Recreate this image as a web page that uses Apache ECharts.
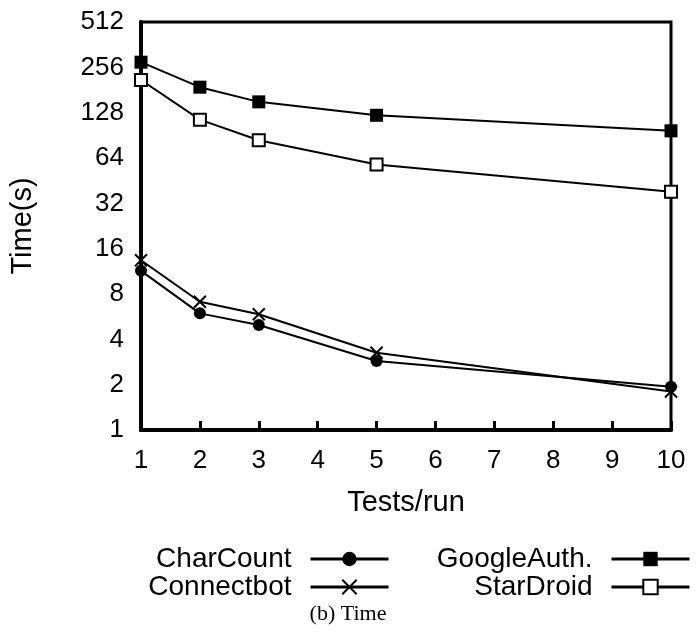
<!DOCTYPE html>
<html>
<head>
<meta charset="utf-8">
<script src="https://cdn.jsdelivr.net/npm/echarts@6/dist/echarts.min.js"></script>
<style>html,body{margin:0;padding:0;background:#fff}#c{width:696px;height:633px}</style>
</head>
<body>
<div id="c"></div>
<script>
const testsPerRun = [1, 2, 3, 5, 10];
const charCount = [11.4, 5.95, 4.98, 2.87, 1.94];
const connectbot = [13.4, 7.1, 5.87, 3.26, 1.80];
const googleAuth = [277, 189, 151, 123, 97];
const starDroid = [211, 115, 84, 58, 38.2];
const yTicks = [1, 2, 4, 8, 16, 32, 64, 128, 256, 512];
const seriesNames = ['CharCount', 'Connectbot', 'GoogleAuth.', 'StarDroid'];

const pairs = vals => testsPerRun.map((x, i) => [x, vals[i]]);
const FONT = 'Liberation Sans, Arial, sans-serif';
const lineStyle = { color: '#000', width: 2 };

const legendCommon = {
  orient: 'vertical', align: 'right', top: 540, itemWidth: 78, itemHeight: 18, itemGap: 0,
  lineStyle: { width: 3, color: '#000' },
  textStyle: { fontSize: 28, color: '#000', fontFamily: FONT, lineHeight: 26, padding: [0, 14, 0, 0] }
};

const chart = echarts.init(document.getElementById('c'), null, { renderer: 'canvas' });
chart.setOption({
  animation: false,
  backgroundColor: '#fff',
  textStyle: { fontFamily: FONT, color: '#000' },
  grid: { left: 140, top: 22, right: 25, bottom: 203, show: true, borderColor: '#000', borderWidth: 3, containLabel: false },
  xAxis: {
    type: 'value', min: 1, max: 10, interval: 1,
    name: 'Tests/run', nameLocation: 'middle', nameGap: 58,
    nameTextStyle: { fontSize: 29, color: '#000', fontFamily: FONT },
    axisLine: { show: true, lineStyle: { color: '#000', width: 4 } },
    axisTick: { show: true, inside: true, length: 9, lineStyle: { color: '#000', width: 3 } },
    axisLabel: { fontSize: 26, color: '#000', margin: 18, fontFamily: FONT },
    splitLine: { show: false }
  },
  yAxis: {
    type: 'log', logBase: 2, min: yTicks[0], max: yTicks[yTicks.length - 1], splitNumber: yTicks.length - 1,
    name: 'Time(s)', nameLocation: 'middle', nameGap: 104, nameRotate: 90,
    nameTextStyle: { fontSize: 29, color: '#000', fontFamily: FONT },
    axisLine: { show: true, lineStyle: { color: '#000', width: 4 } },
    axisTick: { show: false },
    axisLabel: { fontSize: 26, color: '#000', margin: 17, fontFamily: FONT },
    splitLine: { show: false }
  },
  legend: [
    Object.assign({ data: [seriesNames[0], seriesNames[1]], right: 301 }, legendCommon),
    Object.assign({ data: [seriesNames[2], seriesNames[3]], right: 0 }, legendCommon)
  ],
  title: {
    text: '(b) Time', left: 'center', top: 598,
    textStyle: { fontFamily: 'Liberation Serif, Times New Roman, serif', fontSize: 22, fontWeight: 'normal', color: '#000' }
  },
  series: [
    {
      name: seriesNames[0], type: 'line', data: pairs(charCount),
      symbol: 'circle', symbolSize: 12, showAllSymbol: true,
      lineStyle, itemStyle: { color: '#000', borderColor: '#000', borderWidth: 0 }
    },
    {
      name: seriesNames[1], type: 'line', data: pairs(connectbot),
      symbol: 'path://M0,0L10,10M10,0L0,10', symbolSize: 12, showAllSymbol: true,
      lineStyle, itemStyle: { color: '#000', borderColor: '#000', borderWidth: 2 }
    },
    {
      name: seriesNames[2], type: 'line', data: pairs(googleAuth),
      symbol: 'rect', symbolSize: 13, showAllSymbol: true,
      lineStyle, itemStyle: { color: '#000', borderColor: '#000', borderWidth: 0 }
    },
    {
      name: seriesNames[3], type: 'line', data: pairs(starDroid),
      symbol: 'rect', symbolSize: 12, showAllSymbol: true,
      lineStyle, itemStyle: { color: '#fff', borderColor: '#000', borderWidth: 2 }
    }
  ]
});
</script>
</body>
</html>
